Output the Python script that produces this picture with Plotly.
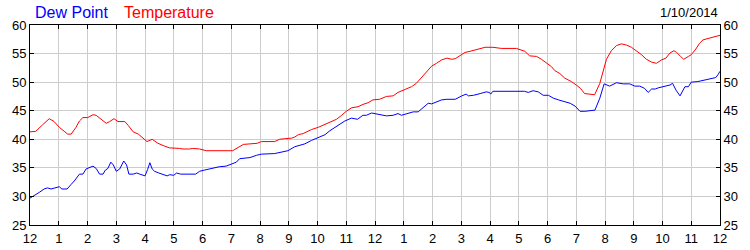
import plotly.graph_objects as go

temp_hours = [0.0, 0.2, 0.43, 0.67, 0.84, 1.02, 1.19, 1.31, 1.43, 1.6, 1.72, 1.84, 2.01, 2.19, 2.3, 2.48,
              2.65, 2.77, 2.92, 3.06, 3.3, 3.42, 3.59, 3.77, 3.94, 4.07, 4.25, 4.45, 4.68, 4.85, 5.2, 5.32,
              5.55, 5.66, 5.9, 6.13, 7.05, 7.25, 7.42, 7.9, 8.05, 8.51, 8.68, 8.86, 9.1, 9.21, 9.33, 9.5,
              9.79, 10.03, 10.26, 10.55, 10.66, 10.84, 11.0, 11.18, 11.41, 11.58, 11.76, 11.93, 12.16, 12.4,
              12.63, 12.8, 13.03, 13.27, 13.44, 13.62, 13.79, 13.97, 14.14, 14.32, 14.5, 14.67, 14.79, 14.96,
              15.13, 15.31, 15.48, 15.66, 15.83, 16.1, 16.4, 16.92, 17.1, 17.21, 17.38, 17.62, 17.79, 17.96,
              18.14, 18.26, 18.43, 18.6, 18.83, 19.0, 19.15, 19.29, 19.47, 19.64, 19.82, 19.94, 20.05, 20.22,
              20.4, 20.57, 20.74, 20.92, 21.09, 21.27, 21.44, 21.62, 21.79, 21.97, 22.12, 22.26, 22.4, 22.49,
              22.63, 22.74, 22.9, 23.0, 23.16, 23.29, 23.41, 23.64, 23.82, 24.0]
temp_values = [41.3, 41.4, 42.5, 43.6, 43.1, 42.1, 41.4, 40.9, 40.9, 42.1, 43.2, 43.8, 43.8, 44.3, 44.2, 43.4,
               42.8, 43.1, 43.6, 43.1, 43.1, 42.4, 41.3, 40.9, 40.2, 39.6, 40.0, 39.3, 38.8, 38.5, 38.4, 38.3,
               38.3, 38.4, 38.3, 38.0, 38.0, 38.6, 39.1, 39.3, 39.6, 39.6, 40.0, 40.1, 40.2, 40.4, 40.8, 41.0,
               41.7, 42.1, 42.6, 43.2, 43.5, 44.2, 44.9, 45.5, 45.7, 46.1, 46.4, 46.9, 47.0, 47.5,
               47.6, 48.2, 48.7, 49.2, 49.8, 50.8, 51.8, 52.8, 53.3, 53.9, 54.2, 54.0, 54.1, 54.6,
               55.2, 55.4, 55.6, 55.9, 56.1, 56.1, 55.9, 55.9, 55.5, 55.4, 54.6, 54.5, 54.0, 53.4,
               52.7, 52.0, 51.5, 50.7, 50.1, 49.5, 48.9, 48.0, 47.9, 47.8, 49.8, 51.8, 54.0, 55.5,
               56.4, 56.7, 56.5, 56.1, 55.5, 54.8, 54.0, 53.5, 53.3, 53.9, 54.2, 55.1, 55.5, 55.2,
               54.5, 54.0, 54.5, 54.8, 55.8, 56.8, 57.4, 57.7, 58.0, 58.2]

dew_hours = [0.0, 0.14, 0.32, 0.49, 0.61, 0.73, 0.84, 1.02, 1.11, 1.29, 1.43, 1.54, 1.72, 1.84, 1.95, 2.07,
             2.19, 2.3, 2.42, 2.54, 2.62, 2.71, 2.81, 2.9, 3.0, 3.12, 3.26, 3.36, 3.44, 3.59, 3.71, 3.82,
             4.0, 4.09, 4.17, 4.25, 4.33, 4.48, 4.62, 4.77, 4.86, 5.0, 5.1, 5.24, 5.76, 5.9, 6.06, 6.24,
             6.35, 6.59, 6.82, 7.0, 7.18, 7.29, 7.65, 7.88, 8.05, 8.51, 8.68, 8.97, 9.21, 9.38, 9.56, 9.79,
             10.08, 10.26, 10.43, 10.66, 10.78, 10.95, 11.18, 11.39, 11.58, 11.7, 11.88, 12.08, 12.4, 12.63,
             12.8, 12.92, 13.09, 13.33, 13.5, 13.68, 13.85, 13.97, 14.14, 14.32, 14.5, 14.79, 15.02, 15.17,
             15.25, 15.43, 15.66, 15.87, 15.98, 16.02, 16.1, 16.92, 17.05, 17.2, 17.33, 17.5, 17.68, 17.85,
             18.03, 18.2, 18.38, 18.55, 18.79, 18.96, 19.13, 19.3, 19.65, 19.82, 19.97, 20.16, 20.4, 20.63,
             20.86, 21.04, 21.21, 21.38, 21.5, 21.62, 21.75, 21.85, 22.08, 22.26, 22.35, 22.47, 22.61, 22.78,
             22.9, 23.0, 23.23, 23.47, 23.7, 23.85, 23.93, 24.0]
dew_values = [29.7, 30.1, 30.7, 31.3, 31.5, 31.3, 31.5, 31.7, 31.3, 31.3, 32.1, 32.7, 33.9, 33.9, 34.8, 35.1,
              35.3, 34.9, 33.9, 33.9, 34.6, 34.9, 36.0, 35.5, 34.4, 34.8, 36.2, 35.5, 33.9, 33.9, 34.1, 33.9,
              33.6, 34.7, 35.9, 34.8, 34.4, 34.1, 33.9, 33.6, 33.8, 33.7, 34.1, 33.9, 33.9, 34.4, 34.6, 34.8,
              35.0, 35.2, 35.3, 35.6, 36.0, 36.6, 36.8, 37.2, 37.4, 37.5, 37.7, 38.0, 38.7, 38.9, 39.2, 39.8,
              40.4, 40.8, 41.5, 42.2, 42.6, 43.2, 43.7, 43.5, 44.2, 44.2, 44.6, 44.4, 44.1, 44.2,
              44.5, 44.2, 44.4, 44.8, 44.8, 45.6, 46.3, 46.2, 46.6, 46.9, 47.0, 47.0, 47.6, 47.9,
              47.6, 47.7, 48.0, 48.3, 48.2, 47.9, 48.4, 48.4, 48.3, 48.4, 48.2, 48.5, 48.3, 47.7,
              47.7, 47.2, 46.9, 46.6, 46.3, 45.8, 44.9, 44.9, 45.1, 47.2, 49.7, 49.3, 49.9, 49.7,
              49.7, 49.3, 49.3, 48.9, 48.2, 48.8, 48.8, 49.0, 49.3, 49.5, 49.8, 48.6, 47.6, 49.2,
              49.2, 50.0, 50.1, 50.4, 50.7, 50.8, 51.3, 51.9]

x_tick_vals = list(range(0, 25))
x_tick_text = ["12", "1", "2", "3", "4", "5", "6", "7", "8", "9", "10", "11",
               "12", "1", "2", "3", "4", "5", "6", "7", "8", "9", "10", "11", "12"]
y_tick_vals = [25, 30, 35, 40, 45, 50, 55, 60]
legend_labels = ["Dew Point", "Temperature"]
date_label = "1/10/2014"

FONT = "Liberation Sans, Arial, sans-serif"
GRID = "#cccccc"

fig = go.Figure()
fig.add_trace(go.Scatter(x=dew_hours, y=dew_values, mode="lines", name=legend_labels[0],
                         line=dict(color="#0000ff", width=1), yaxis="y"))
fig.add_trace(go.Scatter(x=temp_hours, y=temp_values, mode="lines", name=legend_labels[1],
                         line=dict(color="#ff0000", width=1), yaxis="y2"))

fig.update_layout(
    width=750, height=250,
    margin=dict(l=30, r=30, t=25, b=25),
    paper_bgcolor="white", plot_bgcolor="white",
    showlegend=False,
    font=dict(family=FONT, size=13, color="black"),
    xaxis=dict(range=[0, 24], tickmode="array", tickvals=x_tick_vals, ticktext=x_tick_text,
               showgrid=True, gridcolor=GRID, gridwidth=1,
               showline=True, linecolor="black", linewidth=1, mirror="ticks",
               ticks="inside", ticklen=4, tickcolor="black", zeroline=False,
               ticklabelstandoff=1, automargin=False,
               tickfont=dict(family=FONT, size=13, color="black")),
    yaxis=dict(range=[25, 60], tickmode="array", tickvals=y_tick_vals,
               showgrid=True, gridcolor=GRID, gridwidth=1,
               showline=True, linecolor="black", linewidth=1, mirror=True,
               ticks="inside", ticklen=4, tickcolor="black", zeroline=False, automargin=False,
               tickfont=dict(family=FONT, size=13, color="black")),
    yaxis2=dict(range=[25, 60], tickmode="array", tickvals=y_tick_vals, overlaying="y", side="right",
                showgrid=False, showline=True, linecolor="black", linewidth=1,
                ticks="inside", ticklen=4, tickcolor="black", zeroline=False, automargin=False,
                tickfont=dict(family=FONT, size=13, color="black")),
)

fig.add_annotation(text=legend_labels[0], xref="paper", yref="paper", x=(33 - 30) / 690, y=(225 - 13) / 200,
                   xanchor="left", yanchor="middle", showarrow=False,
                   font=dict(family=FONT, size=16, color="#0000ff"))
fig.add_annotation(text=legend_labels[1], xref="paper", yref="paper", x=(122 - 30) / 690, y=(225 - 13) / 200,
                   xanchor="left", yanchor="middle", showarrow=False,
                   font=dict(family=FONT, size=16, color="#ff0000"))
fig.add_annotation(text=date_label, xref="paper", yref="paper", x=(720 - 30) / 690, y=(225 - 12) / 200,
                   xanchor="right", yanchor="middle", showarrow=False,
                   font=dict(family=FONT, size=13, color="black"))

fig.write_html("out.html")
